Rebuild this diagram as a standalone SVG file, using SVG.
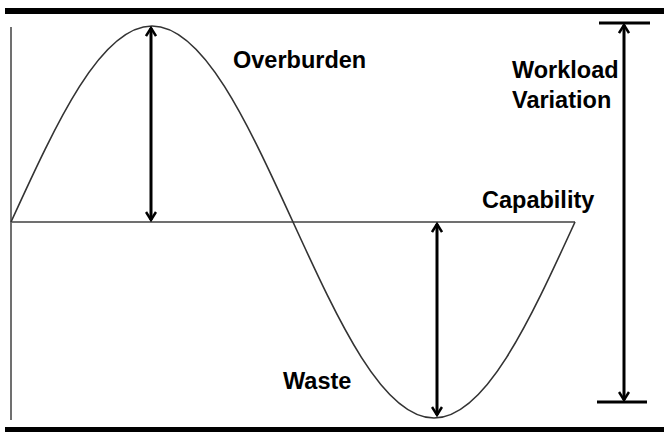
<svg xmlns="http://www.w3.org/2000/svg" width="664" height="432" viewBox="0 0 664 432">
<style>
.lbl{font-family:"Liberation Sans",Arial,sans-serif;font-weight:bold;font-size:23.5px;fill:#000}
.arr{stroke:#000;stroke-width:3;fill:none}
.axis{stroke:#707070;stroke-width:2;fill:none}
</style>
<defs>
<marker id="ah" viewBox="0 0 12 12" refX="10" refY="6" markerWidth="12" markerHeight="12" markerUnits="userSpaceOnUse" orient="auto-start-reverse">
<polyline points="2,1 10,6 2,11" fill="none" stroke="#000" stroke-width="2.5"/>
</marker>
</defs>
<rect width="664" height="432" fill="#fff"/>
<g id="frame">
<rect x="5" y="8" width="659" height="6" fill="#000"/>
<rect x="5" y="427" width="659" height="5" fill="#000"/>
<line class="axis" x1="11" y1="27" x2="11" y2="420"/>
</g>
<g id="capability-line">
<line class="axis" x1="11" y1="222" x2="575" y2="222"/>
</g>
<g id="workload-curve">
<path d="M11,222 C56.9,121.8 100.9,26 152,26 S247.1,121.8 293,222 S382.9,418 434,418 S529.1,322.2 575,222" fill="none" stroke="#333" stroke-width="1.6"/>
</g>
<g id="connectors">
<line class="arr" x1="151" y1="28" x2="151" y2="220" marker-start="url(#ah)" marker-end="url(#ah)"/>
<line class="arr" x1="437" y1="224" x2="437" y2="415" marker-start="url(#ah)" marker-end="url(#ah)"/>
<line class="arr" x1="624" y1="25" x2="624" y2="400" marker-start="url(#ah)" marker-end="url(#ah)"/>
<line class="arr" x1="599" y1="23" x2="650" y2="23"/>
<line class="arr" x1="597" y1="402" x2="647" y2="402"/>
</g>
<g id="overburden"><text class="lbl" x="233" y="68">Overburden</text></g>
<g id="workload-variation">
<text class="lbl" x="512" y="78">Workload</text>
<text class="lbl" x="512" y="108">Variation</text>
</g>
<g id="capability"><text class="lbl" x="482" y="208">Capability</text></g>
<g id="waste"><text class="lbl" x="283" y="389">Waste</text></g>
</svg>
